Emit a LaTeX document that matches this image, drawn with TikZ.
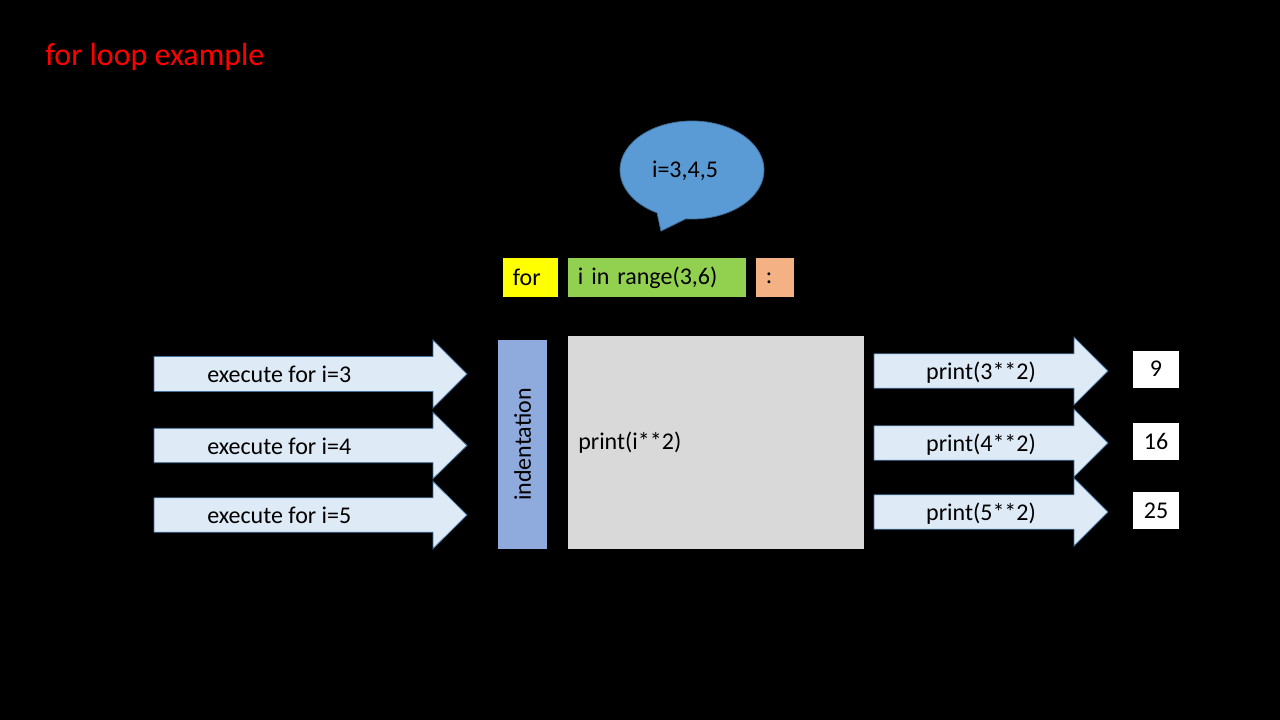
\documentclass[tikz,border=0pt]{standalone}
\usepackage{fontspec}
\setmainfont{Carlito}
\usetikzlibrary{positioning}
\definecolor{calloutblue}{HTML}{5B9BD5}
\definecolor{edgeblue}{HTML}{41719C}
\definecolor{arrowfill}{HTML}{DEEBF7}
\definecolor{forcol}{HTML}{FFFF00}
\definecolor{rangecol}{HTML}{92D050}
\definecolor{coloncol}{HTML}{F4B183}
\definecolor{indentcol}{HTML}{8FAADC}
\definecolor{bodycol}{HTML}{D9D9D9}
\newcommand\blockarrow[6]{%
  \draw[arrowshape] (#1,#4-#5) -- (#2,#4-#5) -- (#2,#4-#6) -- (#3,#4) -- (#2,#4+#6) -- (#2,#4+#5) -- (#1,#4+#5) -- cycle;}
\tikzset{
  x=0.75pt, y=-0.75pt,
  txt/.style={font=\fontsize{18}{21.6}\selectfont, text=black, inner sep=0pt},
  arrowshape/.style={fill=arrowfill, draw=edgeblue, line width=0.6pt},
  codebox/.style={txt, anchor=north west, minimum height=29.25pt, inner xsep=7.2pt, inner ysep=0pt, align=left},
  outbox/.style={txt, fill=white, minimum width=34.5pt, minimum height=27.75pt},
}
\begin{document}
\begin{tikzpicture}
\useasboundingbox (0,0) rectangle (1280,720);
\fill[black] (0,0) rectangle (1280,720);

% title
\node[font=\fontsize{24}{28.8}\selectfont, text=red, inner sep=0pt, anchor=base west] (title) at (45,66) {for loop example};

% callout
\draw[fill=calloutblue, draw=edgeblue, line width=0.6pt] (692,170) ++(119:72 and 49)
  arc[start angle=119, end angle=455, x radius=72, y radius=49] -- (661,231) -- cycle;
\node[txt] (callout) at (685,171) {i=3,4,5};

% for-statement boxes
\node[codebox, fill=forcol, text width=26.85pt] (for) at (503,258) {for};
\node[codebox, fill=rangecol, text width=119.1pt] (range) at (568,258) {i in range(3,6)};
\node[codebox, fill=coloncol, text width=14.1pt] (colon) at (756,258) {:};

% indentation
\node[txt, fill=indentcol, rotate=90, minimum width=156.75pt, minimum height=36.75pt] (indent) at (522.5,444.5) {indentation};

% body
\node[fill=bodycol, anchor=north west, minimum width=222pt, minimum height=159.75pt, inner sep=0pt] (body) at (568,336) {};
\node[txt, anchor=west] (bodytext) at (578,443) {print(i**2)};

% left arrows
\blockarrow{154}{433}{467}{374}{17.5}{34}
\blockarrow{154}{433}{467}{445.5}{17.2}{33.2}
\blockarrow{154}{433}{467}{515}{17.2}{33.7}
\node[txt, anchor=west] (ex3) at (207,374.5) {execute for i=3};
\node[txt, anchor=west] (ex4) at (207,446.5) {execute for i=4};
\node[txt, anchor=west] (ex5) at (207,515.5) {execute for i=5};

% right arrows
\blockarrow{874}{1074}{1108}{371}{17.2}{33.8}
\blockarrow{874}{1074}{1108}{443}{17.2}{33.8}
\blockarrow{874}{1074}{1108}{512}{17.2}{34}
\node[txt] (pr3) at (981,372.5) {print(3**2)};
\node[txt] (pr4) at (981,444.5) {print(4**2)};
\node[txt] (pr5) at (981,513.5) {print(5**2)};

% outputs
\node[outbox] (o9) at (1156,369) {9};
\node[outbox] (o16) at (1156,441) {16};
\node[outbox] (o25) at (1156,510.5) {25};
\end{tikzpicture}
\end{document}
